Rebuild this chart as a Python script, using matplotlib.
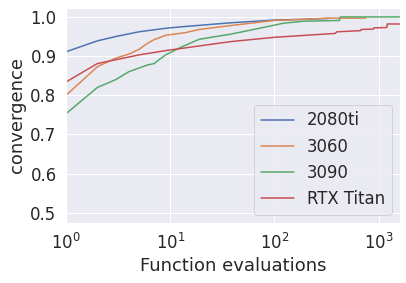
import matplotlib
matplotlib.use("Agg")
import matplotlib.pyplot as plt
import numpy as np
import seaborn as sns

sns.set_theme(style="darkgrid", font_scale=1.5)

labels = ["2080ti", "3060", "3090", "RTX Titan"]

x_2080ti = [1, 2, 3, 5, 9, 13, 38, 100, 200, 330]
y_2080ti = [0.911, 0.939, 0.950, 0.962, 0.971, 0.975, 0.985, 0.992, 0.994, 0.996]

x_3060 = [1, 2, 3, 4, 5, 6, 7, 9, 14, 19, 38, 100, 200, 330, 750]
y_3060 = [0.80, 0.873, 0.895, 0.905, 0.917, 0.932, 0.942, 0.953, 0.960, 0.968, 0.978,
          0.991, 0.994, 0.997, 0.997]

x_3090 = [1, 2, 3, 4, 6, 7, 9, 13, 19, 38, 47, 63, 100, 122, 190, 420, 430, 1600]
y_3090 = [0.753, 0.820, 0.840, 0.860, 0.877, 0.881, 0.903, 0.924, 0.943, 0.956, 0.961, 0.968,
          0.979, 0.984, 0.989, 0.991, 1.0, 1.0]

x_titan = [1, 2, 5, 9, 38, 100, 385, 395, 670, 680, 890, 900, 1200, 1210, 1600]
y_titan = [0.834, 0.881, 0.903, 0.914, 0.937, 0.948, 0.958, 0.962, 0.965, 0.968, 0.969, 0.972,
           0.973, 0.982, 0.982]

series = [(x_2080ti, y_2080ti), (x_3060, y_3060), (x_3090, y_3090), (x_titan, y_titan)]

fig = plt.figure(figsize=(406 / 72, 283 / 72), dpi=72)
ax = fig.add_axes([0.1626, 0.212, 0.8224, 0.760])
for (xs, ys), lab in zip(series, labels):
    ax.plot(xs, ys, label=lab)

ax.set_xscale("log")
ax.set_xlim(1, 1600)
ax.set_ylim(0.474, 1.023)
ax.set_xlabel("Function evaluations")
ax.set_ylabel("convergence")
ax.legend(loc="lower right")

fig.savefig("out.png", dpi=72)
